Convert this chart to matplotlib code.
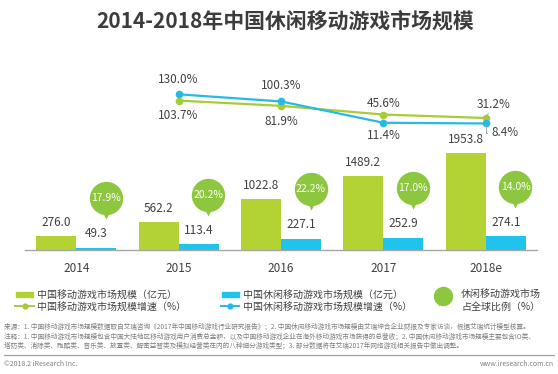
import matplotlib
matplotlib.use("Agg")
import matplotlib.pyplot as plt
from matplotlib.transforms import offset_copy
from matplotlib.patches import Rectangle
import numpy as np

plt.rcParams['font.family'] = ['Noto Sans CJK SC', 'DejaVu Sans']

# data
years = ["2014", "2015", "2016", "2017", "2018e"]
mobile_size = [276.0, 562.2, 1022.8, 1489.2, 1953.8]      # 中国移动游戏市场规模（亿元）
casual_size = [49.3, 113.4, 227.1, 252.9, 274.1]          # 中国休闲移动游戏市场规模（亿元）
mobile_growth = [103.7, 81.9, 45.6, 31.2]                 # 2015-2018e
casual_growth = [130.0, 100.3, 11.4, 8.4]                 # 2015-2018e
global_share = [17.9, 20.2, 22.2, 17.0, 14.0]             # 占全球比例（%）

GREEN = "#b3d334"
BLUE = "#1fc3ec"
LINE_GREEN = "#a9cb36"
LINE_BLUE = "#29b9e8"
BUBBLE = "#8dc63f"
TXT = "#404040"

fig = plt.figure(figsize=(5.58, 3.74), dpi=100)
W, H = 558, 374

# main axes: baseline at y=250px, x from 25 to 537 px
ax = fig.add_axes([25 / W, 1 - 250 / H, 512 / W, 190 / H])
ax.set_xlim(-0.5, 4.5)
ax.set_ylim(0, 3846)
ax2 = ax.twinx()
ax2.set_ylim(-519, 273)

for a in (ax, ax2):
    for s in ("top", "right", "left"):
        a.spines[s].set_visible(False)
    a.set_yticks([])
ax2.spines["bottom"].set_visible(False)
ax.spines["bottom"].set_color("#a6a6a6")
ax.spines["bottom"].set_linewidth(1.0)

x = np.arange(len(years))
w = 0.39
ax.bar(x - w / 2, mobile_size, w, color=GREEN, zorder=2)
ax.bar(x + w / 2, casual_size, w, color=BLUE, zorder=2)
ax.set_xticks(x)
ax.set_xticklabels(years, fontsize=8.5, color=TXT)
ax.tick_params(axis="x", length=0, pad=9)

for xi, v in zip(x, mobile_size):
    ax.annotate(f"{v:.1f}", (xi - w / 2, v), xytext=(0, 10), textcoords="offset points",
                ha="center", va="center", fontsize=8.5, color=TXT)
for xi, v in zip(x, casual_size):
    ax.annotate(f"{v:.1f}", (xi + w / 2, v), xytext=(0, 10), textcoords="offset points",
                ha="center", va="center", fontsize=8.5, color=TXT)

# speech bubbles for global share
bx = x + 0.29
circ_tr = offset_copy(ax.transData, fig=fig, x=0, y=35.5, units="points")
tri_tr = offset_copy(ax.transData, fig=fig, x=0, y=24, units="points")
ax.plot(bx, casual_size, "v", ms=7.5, color=BUBBLE, mec="none", transform=tri_tr, zorder=3)
ax.plot(bx, casual_size, "o", ms=24, color=BUBBLE, mec="none", transform=circ_tr, zorder=3)
for xi, v, s in zip(bx, casual_size, global_share):
    ax.annotate(f"{s:.1f}%", (xi, v), xytext=(0, 35.5), textcoords="offset points",
                ha="center", va="center", fontsize=7.5, color="white", zorder=4)

# growth lines
lx = x[1:]
ax2.plot(lx, mobile_growth, color=LINE_GREEN, lw=1.6, marker="o", ms=4.5, zorder=3)
ax2.plot(lx, casual_growth, color=LINE_BLUE, lw=1.6, marker="o", ms=4.5, zorder=3)

green_off = [(0, -10.5), (0, -11), (0, 8), None]
blue_off = [(0, 11), (0, 11.5), (0, -9.5), None]
for xi, v, off in zip(lx, mobile_growth, green_off):
    if off:
        ax2.annotate(f"{v:.1f}%", (xi, v), xytext=off, textcoords="offset points",
                     ha="center", va="center", fontsize=8.5, color=TXT)
for xi, v, off in zip(lx, casual_growth, blue_off):
    if off:
        ax2.annotate(f"{v:.1f}%", (xi, v), xytext=off, textcoords="offset points",
                     ha="center", va="center", fontsize=8.5, color=TXT)
ax2.annotate(f"{mobile_growth[-1]:.1f}%", (lx[-1], mobile_growth[-1]), xytext=(5.5, 10),
             textcoords="offset points", ha="center", va="center", fontsize=8.5, color=TXT,
             arrowprops=dict(arrowstyle="-", color="#a6a6a6", lw=0.6, shrinkA=6, shrinkB=2))
ax2.annotate(f"{casual_growth[-1]:.1f}%", (lx[-1], casual_growth[-1]), xytext=(4, -6.5),
             textcoords="offset points", ha="left", va="center", fontsize=8.5, color=TXT,
             arrowprops=dict(arrowstyle="-", color="#a6a6a6", lw=0.6, shrinkA=1, shrinkB=2,
                             connectionstyle="angle,angleA=0,angleB=90,rad=0"))

# overlay in pixel coords for title, legend and notes
ov = fig.add_axes([0, 0, 1, 1], zorder=-1)
ov.set_xlim(0, W)
ov.set_ylim(H, 0)
ov.axis("off")

ov.text(285, 21, "2014-2018年中国休闲移动游戏市场规模", ha="center", va="center",
        fontsize=15, fontweight="bold", color="#3c3c3c")

# legend
lfs = 7.2
ov.add_patch(Rectangle((16, 292), 17, 5, color=GREEN))
ov.text(37, 294.5, "中国移动游戏市场规模（亿元）", va="center", fontsize=lfs, color=TXT)
ov.plot([15, 34], [306, 306], color=LINE_GREEN, lw=1.4)
ov.plot([24.5], [306], "o", color=LINE_GREEN, ms=3.5)
ov.text(37, 306.5, "中国移动游戏市场规模增速（%）", va="center", fontsize=lfs, color=TXT)

ov.add_patch(Rectangle((222, 292), 17, 5, color=BLUE))
ov.text(243, 294.5, "中国休闲移动游戏市场规模（亿元）", va="center", fontsize=lfs, color=TXT)
ov.plot([221, 239], [306, 306], color=LINE_BLUE, lw=1.4)
ov.plot([230], [306], "o", color=LINE_BLUE, ms=3.5)
ov.text(243, 306.5, "中国休闲移动游戏市场规模增速（%）", va="center", fontsize=lfs, color=TXT)

ov.plot([439], [303], "v", color=BUBBLE, ms=5, mec="none")
ov.plot([442.5], [296], "o", color=BUBBLE, ms=14, mec="none")
ov.text(461, 294, "休闲移动游戏市场", va="center", fontsize=lfs, color=TXT)
ov.text(461, 306.5, "占全球比例（%）", va="center", fontsize=lfs, color=TXT)

# notes
nfs = 4.8
ncol = "#7f7f7f"
ov.text(4, 327, "来源：1. 中国移动游戏市场规模数据取自艾瑞咨询《2017年中国移动游戏行业研究报告》；2. 中国休闲移动游戏市场规模由艾瑞综合企业财报及专家访谈，根据艾瑞统计模型核算。",
        va="center", fontsize=nfs, color=ncol)
ov.text(4, 337, "注释：1. 中国移动游戏市场规模包含中国大陆地区移动游戏用户消费总金额，以及中国移动游戏企业在海外移动游戏市场获得的总营收；2. 中国休闲移动游戏市场规模主要包含IO类、",
        va="center", fontsize=nfs, color=ncol)
ov.text(4, 346, "塔防类、消除类、跑酷类、音乐类、放置类、解密益智类及模拟经营类在内的八种细分游戏类型；3. 部分数据将在艾瑞2017年网络游戏相关报告中做出调整。",
        va="center", fontsize=nfs, color=ncol)
ov.plot([4, 554], [355, 355], color="#a0a0a0", lw=0.9)
ov.text(4, 364, "©2018.2 iResearch Inc.", va="center", fontsize=5, color=ncol)
ov.text(554, 364, "www.iresearch.com.cn", va="center", ha="right", fontsize=5, color=ncol)

fig.savefig("out.png", dpi=100)
